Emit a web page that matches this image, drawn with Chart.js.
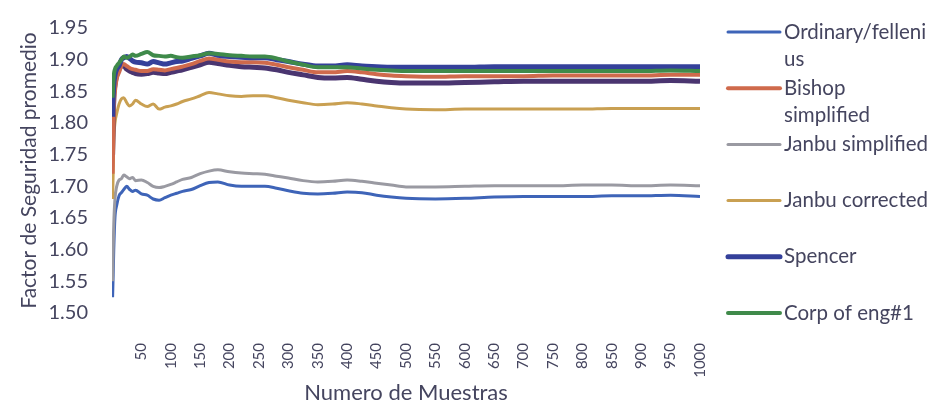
<!DOCTYPE html>
<html>
<head>
<meta charset="utf-8">
<script src="https://cdn.jsdelivr.net/npm/chart.js@4"></script>
<style>
  html, body { margin: 0; padding: 0; background: #fff; }
  #caja { width: 941px; height: 406px; position: relative; }
</style>
</head>
<body>
<div id="caja"><canvas id="grafico"></canvas></div>
<script>
// numero de muestra (eje x)
const muestras = [1,2,3,5,8,12,16,20,25,30,35,40,50,60,70,80,90,100,110,120,135,150,165,180,
  200,220,240,260,280,300,325,350,375,400,425,450,475,500,550,600,650,700,750,800,850,900,950,1000];

const ordinary = [1.525,1.56,1.60,1.65,1.67,1.685,1.69,1.695,1.70,1.695,1.692,1.694,1.688,1.686,1.680,1.678,1.682,1.686,
  1.689,1.692,1.695,1.701,1.706,1.707,1.702,1.700,1.700,1.700,1.697,1.693,1.689,1.688,1.689,1.691,1.690,1.686,1.683,1.681,
  1.680,1.681,1.683,1.684,1.684,1.684,1.685,1.685,1.686,1.684];
const bishop = [1.72,1.77,1.82,1.85,1.87,1.88,1.89,1.893,1.89,1.887,1.885,1.884,1.882,1.882,1.885,1.884,1.883,1.885,
  1.887,1.889,1.893,1.898,1.902,1.900,1.897,1.896,1.896,1.895,1.892,1.888,1.884,1.880,1.880,1.882,1.880,1.877,1.875,1.874,
  1.873,1.874,1.874,1.874,1.875,1.875,1.875,1.875,1.876,1.876];
const janbuSimp = [1.55,1.60,1.64,1.68,1.70,1.71,1.712,1.718,1.715,1.712,1.714,1.709,1.710,1.706,1.700,1.698,1.700,1.703,
  1.707,1.711,1.714,1.720,1.724,1.726,1.723,1.721,1.720,1.719,1.716,1.713,1.709,1.707,1.708,1.710,1.708,1.705,1.702,1.699,
  1.699,1.700,1.701,1.701,1.701,1.702,1.702,1.701,1.702,1.701];
const janbuCorr = [1.68,1.72,1.77,1.80,1.815,1.83,1.838,1.84,1.832,1.827,1.83,1.836,1.830,1.826,1.830,1.822,1.825,1.827,
  1.830,1.834,1.838,1.843,1.848,1.846,1.843,1.842,1.843,1.843,1.840,1.836,1.832,1.829,1.830,1.832,1.830,1.827,1.824,1.822,
  1.821,1.822,1.822,1.822,1.822,1.822,1.823,1.823,1.823,1.823];
const spencer = [1.81,1.84,1.86,1.875,1.885,1.89,1.90,1.903,1.905,1.902,1.898,1.896,1.895,1.893,1.897,1.895,1.893,1.895,
  1.897,1.898,1.902,1.906,1.910,1.907,1.905,1.904,1.903,1.903,1.900,1.897,1.893,1.890,1.890,1.892,1.890,1.889,1.888,1.888,
  1.888,1.888,1.889,1.889,1.889,1.889,1.889,1.889,1.889,1.889];
const corpEng = [1.84,1.86,1.875,1.885,1.89,1.895,1.90,1.905,1.903,1.905,1.908,1.906,1.909,1.912,1.907,1.906,1.905,1.906,
  1.904,1.903,1.905,1.907,1.910,1.909,1.907,1.906,1.905,1.905,1.902,1.897,1.892,1.888,1.888,1.888,1.886,1.884,1.883,1.882,
  1.882,1.882,1.882,1.882,1.882,1.882,1.882,1.882,1.883,1.882];
// serie sin entrada visible en la leyenda (banda inferior del grupo superior)
const otraSerie = [1.75,1.80,1.84,1.86,1.875,1.885,1.89,1.89,1.885,1.882,1.88,1.878,1.877,1.878,1.88,1.879,1.878,1.88,
  1.882,1.884,1.888,1.892,1.896,1.894,1.891,1.889,1.888,1.887,1.884,1.880,1.876,1.872,1.871,1.872,1.869,1.866,1.864,1.863,
  1.863,1.864,1.865,1.866,1.866,1.866,1.866,1.866,1.867,1.866];

const nombres = ['Ordinary/fellenius', 'Bishop simplified', 'Janbu simplified', 'Janbu corrected', 'Spencer', 'Corp of eng#1'];
const textoLeyenda = [['Ordinary/felleni', 'us'], ['Bishop', 'simplified'], ['Janbu simplified'], ['Janbu corrected'], ['Spencer'], ['Corp of eng#1']];

const colorTexto = '#45455f';
const fuente = 'Lato, "Open Sans", sans-serif';

const puntos = arr => muestras.map((m, i) => ({ x: m, y: arr[i] }));

function serie(label, valores, color, ancho, leyenda) {
  return {
    label: label,
    data: puntos(valores),
    borderColor: color,
    backgroundColor: color,
    borderWidth: ancho,
    pointRadius: 0,
    cubicInterpolationMode: 'monotone',
    enLeyenda: leyenda
  };
}

const leyendaPlugin = {
  id: 'leyendaLateral',
  afterDraw(chart) {
    const ctx = chart.ctx;
    ctx.save();
    ctx.font = '20.5px ' + fuente;
    ctx.fillStyle = colorTexto;
    ctx.textBaseline = 'middle';
    chart.data.datasets.forEach(ds => {
      if (ds.enLeyenda < 0) return;
      const i = ds.enLeyenda;
      const y = 32 + i * 56.2;
      ctx.strokeStyle = ds.borderColor;
      ctx.lineWidth = ds.borderWidth;
      ctx.lineCap = 'round';
      ctx.beginPath();
      ctx.moveTo(728, y);
      ctx.lineTo(780, y);
      ctx.stroke();
      textoLeyenda[i].forEach((t, j) => ctx.fillText(t, 784, y + j * 27));
    });
    ctx.restore();
  }
};

new Chart(document.getElementById('grafico'), {
  type: 'line',
  data: {
    datasets: [
      serie(nombres[5], corpEng, '#3f8a4a', 4, 5),
      serie(nombres[4], spencer, '#34409a', 5, 4),
      serie(nombres[1], bishop, '#cf6a4c', 4, 1),
      serie('otra', otraSerie, '#4a3570', 5, -1),
      serie(nombres[3], janbuCorr, '#c9a052', 3, 3),
      serie(nombres[2], janbuSimp, '#9a9aa2', 3, 2),
      serie(nombres[0], ordinary, '#3e64b8', 3, 0)
    ]
  },
  options: {
    responsive: true,
    maintainAspectRatio: false,
    animation: false,
    layout: { padding: { top: 11, right: 241, left: 0, bottom: 0 } },
    plugins: {
      legend: { display: false },
      tooltip: { enabled: false }
    },
    scales: {
      x: {
        type: 'linear',
        min: 0,
        max: 1000,
        afterFit: s => { s.height = 93; },
        grid: { display: false },
        border: { display: false },
        ticks: {
          stepSize: 50,
          autoSkip: false,
          minRotation: 90,
          maxRotation: 90,
          padding: 22,
          color: colorTexto,
          font: { family: fuente, size: 15 },
          callback: v => v === 0 ? '' : v
        },
        title: {
          display: true,
          text: 'Numero de Muestras',
          color: colorTexto,
          font: { family: fuente, size: 22 },
          padding: { top: 0, bottom: 0 }
        }
      },
      y: {
        min: 1.5,
        max: 1.95,
        afterFit: s => { s.width = 112; },
        grid: { display: false },
        border: { display: false },
        ticks: {
          stepSize: 0.05,
          padding: 16,
          color: colorTexto,
          font: { family: fuente, size: 20 },
          callback: v => Number(v).toFixed(2)
        },
        title: {
          display: true,
          text: 'Factor de Seguridad promedio',
          color: colorTexto,
          font: { family: fuente, size: 21 },
          padding: { top: 17, bottom: 0 }
        }
      }
    }
  },
  plugins: [leyendaPlugin]
});
</script>
</body>
</html>
